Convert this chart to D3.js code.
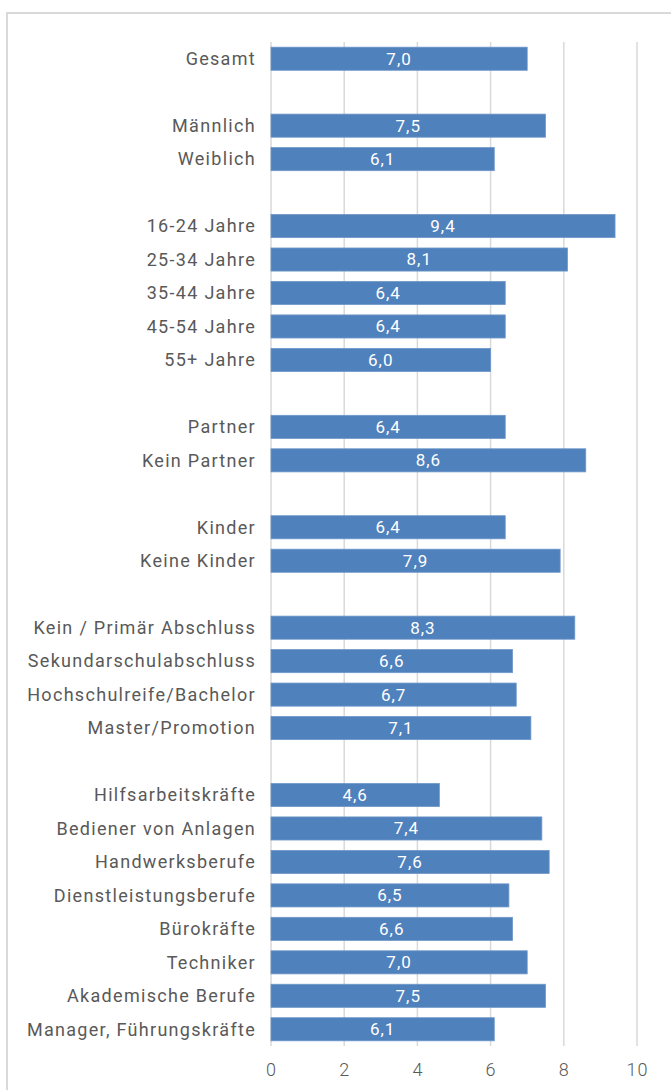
<!DOCTYPE html>
<html>
<head>
<meta charset="utf-8">
<script src="https://cdn.jsdelivr.net/npm/d3@7"></script>
<style>
  body { margin: 0; background: #fff; }
  text { font-family: Roboto, "Noto Sans", sans-serif; }
</style>
</head>
<body>
<div id="canvas"></div>
<script>
// null = empty row between groups
var categories = ["Gesamt", null,
  "Männlich", "Weiblich", null,
  "16-24 Jahre", "25-34 Jahre", "35-44 Jahre", "45-54 Jahre", "55+ Jahre", null,
  "Partner", "Kein Partner", null,
  "Kinder", "Keine Kinder", null,
  "Kein / Primär Abschluss", "Sekundarschulabschluss", "Hochschulreife/Bachelor", "Master/Promotion", null,
  "Hilfsarbeitskräfte", "Bediener von Anlagen", "Handwerksberufe", "Dienstleistungsberufe",
  "Bürokräfte", "Techniker", "Akademische Berufe", "Manager, Führungskräfte"];

var values = [7.0, null,
  7.5, 6.1, null,
  9.4, 8.1, 6.4, 6.4, 6.0, null,
  6.4, 8.6, null,
  6.4, 7.9, null,
  8.3, 6.6, 6.7, 7.1, null,
  4.6, 7.4, 7.6, 6.5, 6.6, 7.0, 7.5, 6.1];

var ticks = [0, 2, 4, 6, 8, 10];

var W = 671, H = 1090;
var plot = {left: 271, right: 637, top: 42, bottom: 1046};

var svg = d3.select("#canvas").append("svg")
  .attr("width", W)
  .attr("height", H);

// chart frame
svg.append("rect")
  .attr("x", 7).attr("y", 13)
  .attr("width", W + 20).attr("height", H + 20)
  .attr("fill", "none")
  .attr("stroke", "#d9d9d9")
  .attr("stroke-width", 2);

var data = categories.map(function (c, i) {
  return {key: "r" + i, name: c, value: values[i]};
});

var x = d3.scaleLinear()
  .domain([0, 10])
  .range([plot.left, plot.right]);

var y = d3.scaleBand()
  .domain(data.map(function (d) { return d.key; }))
  .range([plot.top, plot.bottom])
  .paddingInner(0.31)
  .paddingOuter(0.155);

// gridlines
svg.append("g")
  .selectAll("line")
  .data(ticks)
  .enter().append("line")
  .attr("x1", function (d) { return x(d); })
  .attr("x2", function (d) { return x(d); })
  .attr("y1", plot.top)
  .attr("y2", plot.bottom)
  .attr("stroke", "#d9d9d9")
  .attr("stroke-width", 1.5);

// x axis labels
var xAxis = d3.axisBottom(x)
  .tickValues(ticks)
  .tickSize(0)
  .tickPadding(17)
  .tickFormat(d3.format("d"));

svg.append("g")
  .attr("class", "x-axis")
  .attr("transform", "translate(0," + plot.bottom + ")")
  .call(xAxis)
  .call(function (g) { g.select(".domain").remove(); })
  .selectAll("text")
  .attr("font-size", 18)
  .attr("font-weight", 300)
  .attr("letter-spacing", 1)
  .attr("font-family", "Roboto, sans-serif")
  .attr("fill", "#595959");

var rows = data.filter(function (d) { return d.name !== null; });

// bars
svg.append("g")
  .selectAll("rect")
  .data(rows)
  .enter().append("rect")
  .attr("x", x(0))
  .attr("y", function (d) { return y(d.key); })
  .attr("width", function (d) { return x(d.value) - x(0); })
  .attr("height", y.bandwidth())
  .attr("fill", "#4f81bd")
  .attr("stroke", "#6f97c9")
  .attr("stroke-width", 0.8);

// category labels
svg.append("g")
  .selectAll("text")
  .data(rows)
  .enter().append("text")
  .attr("x", 256)
  .attr("y", function (d) { return y(d.key) + y.bandwidth() / 2; })
  .attr("dy", "0.35em")
  .attr("text-anchor", "end")
  .attr("font-size", 18)
  .attr("letter-spacing", 1.3)
  .attr("fill", "#595959")
  .text(function (d) { return d.name; });

// value labels
svg.append("g")
  .selectAll("text")
  .data(rows)
  .enter().append("text")
  .attr("x", function (d) { return (x(0) + x(d.value)) / 2; })
  .attr("y", function (d) { return y(d.key) + y.bandwidth() / 2; })
  .attr("dy", "0.35em")
  .attr("text-anchor", "middle")
  .attr("font-size", 17)
  .attr("letter-spacing", 1)
  .attr("fill", "#ffffff")
  .text(function (d) { return d3.format(".1f")(d.value).replace(".", ","); });
</script>
</body>
</html>
